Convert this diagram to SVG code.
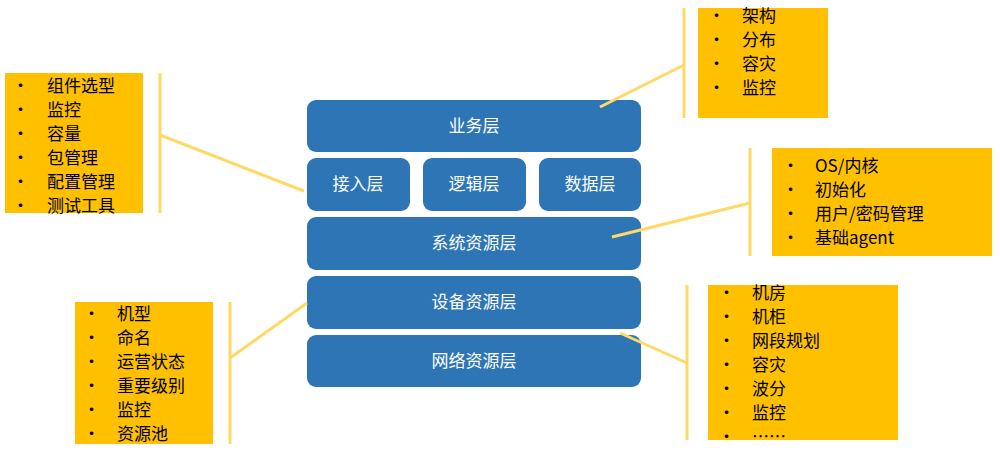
<svg xmlns="http://www.w3.org/2000/svg" width="1000" height="452" viewBox="0 0 1000 452">
<style>
.b{fill:#2E75B6}
.bt{font-family:"Noto Sans CJK SC","Liberation Sans",sans-serif;font-size:17px;fill:#fff;text-anchor:middle}
.y{fill:#FFC000}
.yt{font-family:"Noto Sans CJK SC","Liberation Sans",sans-serif;font-size:17px;fill:#000}
.ln{stroke:#FFD966;stroke-width:3;fill:none}
</style>
<rect width="1000" height="452" fill="#fff"/>
<g id="layers">
<g id="yewu"><rect class="b" x="307" y="100" width="334" height="52" rx="9"/><text class="bt" x="474" y="132">业务层</text></g>
<g id="jieru"><rect class="b" x="307" y="158" width="103" height="53" rx="9"/><text class="bt" x="358" y="190">接入层</text></g>
<g id="luoji"><rect class="b" x="423" y="158" width="103" height="53" rx="9"/><text class="bt" x="474" y="190">逻辑层</text></g>
<g id="shuju"><rect class="b" x="539" y="158" width="102" height="53" rx="9"/><text class="bt" x="590" y="190">数据层</text></g>
<g id="xitong"><rect class="b" x="307" y="217" width="334" height="53" rx="9"/><text class="bt" x="474" y="249">系统资源层</text></g>
<g id="shebei"><rect class="b" x="307" y="276" width="334" height="53" rx="9"/><text class="bt" x="474" y="308">设备资源层</text></g>
<g id="wangluo"><rect class="b" x="307" y="335" width="334" height="52" rx="9"/><text class="bt" x="474" y="367">网络资源层</text></g>
</g>
<g id="connectors">
<line class="ln" x1="160" y1="73" x2="160" y2="213"/><line class="ln" x1="160" y1="135" x2="304" y2="191"/>
<line class="ln" x1="684" y1="8" x2="684" y2="118"/><line class="ln" x1="684" y1="65" x2="600" y2="107"/>
<line class="ln" x1="750" y1="148" x2="750" y2="256"/><line class="ln" x1="750" y1="203" x2="612" y2="237"/>
<line class="ln" x1="230" y1="302" x2="230" y2="444"/><line class="ln" x1="307" y1="303" x2="230" y2="358"/>
<line class="ln" x1="687" y1="285" x2="687" y2="440"/><line class="ln" x1="620" y1="333" x2="687" y2="363"/>
</g>
<g id="note-left-top"><rect class="y" x="5" y="73" width="138" height="140"/>
<text class="yt"><tspan x="12" y="92">•</tspan><tspan x="47" y="92">组件选型</tspan><tspan x="12" y="116">•</tspan><tspan x="47" y="116">监控</tspan><tspan x="12" y="140">•</tspan><tspan x="47" y="140">容量</tspan><tspan x="12" y="164">•</tspan><tspan x="47" y="164">包管理</tspan><tspan x="12" y="188">•</tspan><tspan x="47" y="188">配置管理</tspan><tspan x="12" y="212">•</tspan><tspan x="47" y="212">测试工具</tspan></text></g>
<g id="note-top-right"><rect class="y" x="698" y="8" width="130" height="110"/>
<text class="yt"><tspan x="708" y="22">•</tspan><tspan x="742" y="22">架构</tspan><tspan x="708" y="46">•</tspan><tspan x="742" y="46">分布</tspan><tspan x="708" y="70">•</tspan><tspan x="742" y="70">容灾</tspan><tspan x="708" y="94">•</tspan><tspan x="742" y="94">监控</tspan></text></g>
<g id="note-right-mid"><rect class="y" x="772" y="148" width="220" height="108"/>
<text class="yt"><tspan x="782" y="172">•</tspan><tspan x="815" y="172">OS/内核</tspan><tspan x="782" y="196">•</tspan><tspan x="815" y="196">初始化</tspan><tspan x="782" y="220">•</tspan><tspan x="815" y="220">用户/密码管理</tspan><tspan x="782" y="244">•</tspan><tspan x="815" y="244">基础agent</tspan></text></g>
<g id="note-left-bottom"><rect class="y" x="75" y="302" width="138" height="142"/>
<text class="yt"><tspan x="83" y="320">•</tspan><tspan x="117" y="320">机型</tspan><tspan x="83" y="344">•</tspan><tspan x="117" y="344">命名</tspan><tspan x="83" y="368">•</tspan><tspan x="117" y="368">运营状态</tspan><tspan x="83" y="392">•</tspan><tspan x="117" y="392">重要级别</tspan><tspan x="83" y="416">•</tspan><tspan x="117" y="416">监控</tspan><tspan x="83" y="440">•</tspan><tspan x="117" y="440">资源池</tspan></text></g>
<g id="note-right-bottom"><rect class="y" x="708" y="285" width="190" height="155"/>
<text class="yt"><tspan x="718" y="299">•</tspan><tspan x="752" y="299">机房</tspan><tspan x="718" y="323">•</tspan><tspan x="752" y="323">机柜</tspan><tspan x="718" y="347">•</tspan><tspan x="752" y="347">网段规划</tspan><tspan x="718" y="371">•</tspan><tspan x="752" y="371">容灾</tspan><tspan x="718" y="395">•</tspan><tspan x="752" y="395">波分</tspan><tspan x="718" y="419">•</tspan><tspan x="752" y="419">监控</tspan><tspan x="718" y="443">•</tspan><tspan x="752" y="443">……</tspan></text></g>
</svg>
